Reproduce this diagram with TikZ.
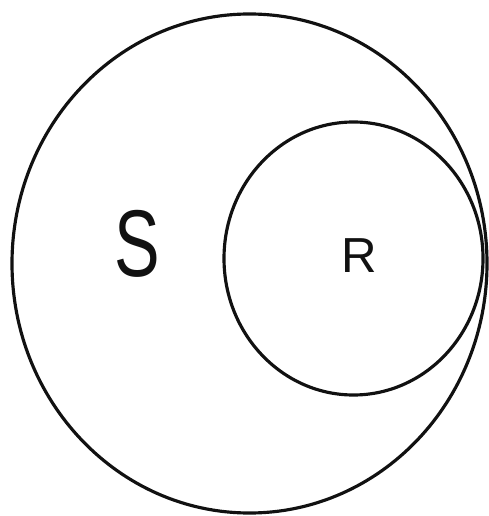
\documentclass[tikz,border=0pt]{standalone}
\usepackage{fontspec}
\setsansfont{Liberation Sans}
\definecolor{ink}{HTML}{111111}

\begin{document}
\begin{tikzpicture}[x=0.02cm,y=-0.02cm,font=\sffamily,text=ink,
    line cap=round,line join=round,
    ring/.style={ink,line width=1.8pt},
    setlabel/.style={inner sep=0pt,anchor=center}]
  \useasboundingbox (0,0) rectangle (488,516);

  % outer set S and the inner set R touching it on the right
  \coordinate (Sc) at (249.5,263.5);
  \coordinate (Rc) at (353.5,258.5);
  \draw[ring] (Sc) ellipse[x radius=237.5,y radius=249.5];
  \draw[ring] (Rc) ellipse[x radius=129.5,y radius=136.5];

  \node[setlabel,font=\sffamily\fontsize{54}{54}\selectfont,xscale=0.72] (S) at (137,244) {S};
  \node[setlabel,font=\sffamily\fontsize{28}{28}\selectfont] (R) at (359,256) {R};
\end{tikzpicture}
\end{document}
